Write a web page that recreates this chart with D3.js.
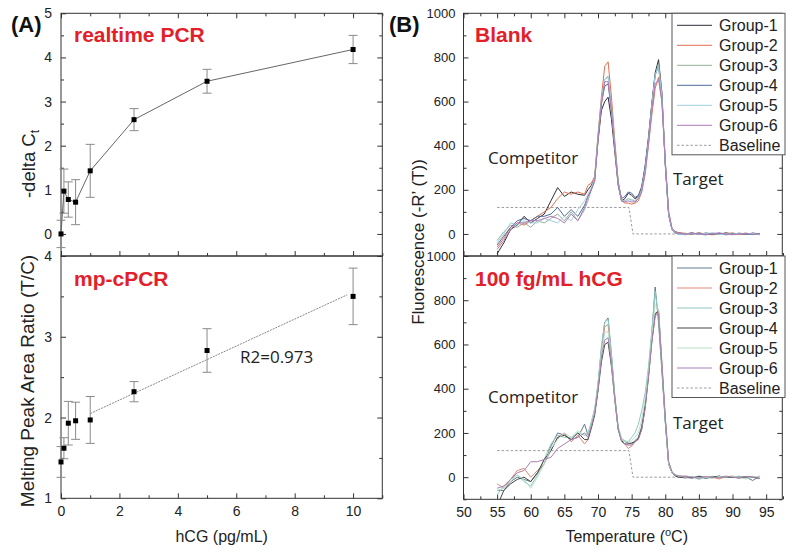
<!DOCTYPE html>
<html><head><meta charset="utf-8">
<script src="https://cdn.jsdelivr.net/npm/d3@7/dist/d3.min.js"></script>
<style>body{margin:0;background:#fff}svg{display:block}</style>
</head><body>
<svg id="c" width="800" height="554"></svg>
<script>
// ---------- Panel A data ----------
const hcgConc = [0, 0.1, 0.25, 0.5, 1, 2.5, 5, 10];
const deltaCt = [0, 0.97, 0.78, 0.72, 1.43, 2.59, 3.46, 4.18];
const deltaCtErr = [0.31, 0.5, 0.4, 0.51, 0.6, 0.25, 0.27, 0.32];
const peakRatio = [1.45, 1.62, 1.93, 1.96, 1.97, 2.32, 2.83, 3.5];
const peakRatioErr = [0.19, 0.13, 0.27, 0.23, 0.29, 0.125, 0.27, 0.35];
const fitFrom = 1, fitTo = 9.8;
const r2Label = "R2=0.973";
const xTicksA = [0, 2, 4, 6, 8, 10];
const yTicksAtop = [0, 1, 2, 3, 4, 5];
const yTicksAbot = [1, 2, 3, 4];

// ---------- Panel B data ----------
const temps = [55,56,57,58,59,60,61,62,63,64,65,66,67,68,68.5,69,69.5,70,70.5,71,71.5,72,72.5,73,73.5,74,74.5,75,75.5,76,76.5,77,77.5,78,78.5,79,79.5,80,80.5,81,81.5,82,83,84,85,86,87,88,89,90,91,92,93,94];
const groupNames = ["Group-1","Group-2","Group-3","Group-4","Group-5","Group-6"];
const blankG1 = [-90,-40,20,40,80,50,70,90,150,210,170,190,180,175, 200,220,250,420,560,600,620,520,370,220,150,160,185,175,160,170,210,300,430,590,730,790,640,320,90,20,10,5, 0,5,-3,4,0,-2,5,0,3,-2,4,0];
const blankG2 = [-60,-20,30,50,40,60,80,100,120,160,190,180,190,180, 220,230,260,450,620,760,780,620,420,240,150,140,140,135,140,150,190,270,400,540,660,710,600,330,100,25,10,5, 3,-2,5,0,-4,3,0,5,-3,2,0,-2];
const blankG3 = [-30,10,40,30,50,30,60,50,70,90,60,100,60,110, 150,200,250,440,600,700,715,580,400,230,155,150,160,155,150,170,210,300,420,580,720,770,630,320,90,20,5,0, -4,2,0,-5,3,0,-3,2,0,4,-2,3];
const blankG4 = [-50,-10,30,60,70,60,80,80,90,120,80,110,80,130, 170,200,240,430,590,670,680,560,390,230,160,170,190,185,165,175,215,310,440,590,720,760,620,310,85,20,5,0, 2,0,4,-2,0,3,-4,0,2,0,-3,2];
const blankG5 = [-40,0,50,40,60,50,50,70,60,50,80,60,110,150, 180,210,250,440,600,700,710,570,400,230,150,150,160,150,150,160,200,290,420,580,720,760,620,320,90,20,10,0, 0,3,-2,2,5,-3,0,-2,4,0,3,-5];
const blankG6 = [-70,-30,20,50,50,60,60,70,80,70,50,90,60,120, 170,200,240,430,590,690,690,560,390,225,150,145,150,145,145,160,195,280,410,560,680,700,600,330,100,25,10,5, -2,4,0,-3,2,5,0,-4,0,3,-2,0];
const hcgG1 = [-60,-60,-20,0,-10,-20,20,60,140,200,190,170,180,240, 190,240,300,420,580,700,720,550,360,220,170,160,155,150,165,180,230,330,470,650,860,700,480,250,60,20,10,5, 0,-5,5,0,-3,4,0,-2,3,0,-15,5];
const hcgG2 = [-30,-50,-10,30,40,0,30,60,120,180,200,160,190,150, 170,230,290,400,560,680,690,540,360,220,165,150,130,140,160,175,220,310,450,610,730,760,520,270,70,20,10,5, 5,0,-5,3,0,-8,2,5,0,-3,4,0];
const hcgG3 = [-80,-40,-10,10,-20,-40,10,80,150,190,180,180,200,190, 200,250,310,420,590,700,715,560,370,230,175,165,160,180,200,240,300,380,500,660,840,720,480,250,60,20,10,0, 5,2,-10,0,4,-2,3,0,5,-5,0,3];
const hcgG4 = [-130,-60,-30,-10,0,-20,20,80,120,180,190,170,200,170, 170,220,280,390,520,600,610,500,350,215,165,150,150,155,160,175,220,320,460,620,740,750,500,260,60,20,5,0, -3,0,3,-5,0,5,-2,0,-4,2,0,-6];
const hcgG5 = [-60,-50,-20,10,-10,-50,0,60,130,170,200,180,210,190, 190,240,300,410,560,650,660,520,350,220,170,160,160,165,180,200,260,350,480,640,780,760,500,260,60,20,10,5, 0,4,-2,0,-5,3,0,4,-2,-8,3,0];
const hcgG6 = [-50,-40,-10,20,30,70,70,80,90,130,150,170,180,200, 180,230,290,400,540,620,630,520,350,220,160,150,145,145,160,170,215,310,450,610,730,740,510,270,70,25,10,5, 3,0,-4,2,0,-3,5,0,-2,3,0,-4];
const baselineT = [55, 74.6, 75.2, 94];
const baselineV = [120, 120, 0, 0];
const xTicksB = [50,55,60,65,70,75,80,85,90,95];
const yTicksB = [0,200,400,600,800,1000];

const blankColors = ["#2f2f3a","#e0704f","#98b098","#4f6a9a","#9fd0e0","#b07ab8"];
const hcgColors = ["#5f7a90","#e08878","#8fc8c0","#454545","#b8e0c8","#a880b0"];

// ---------- drawing ----------
const svg = d3.select("#c");
const ARIAL = "Liberation Sans, Arial, sans-serif";
const OPEN = "Open Sans, sans-serif";
const RED = "#e3202a";

const xA = d3.scaleLinear([0, 11], [61, 382.3]);
const yAt = d3.scaleLinear([-0.5, 5], [256, 13.3]);
const yAb = d3.scaleLinear([1, 4], [498.3, 256]);
const xB = d3.scaleLinear([50, 97.4], [463.5, 782.3]);
const yBt = d3.scaleLinear([-100, 1000], [256, 13.3]);
const yBb = d3.scaleLinear([-100, 1000], [499.3, 256]);

function range(a, b, s) { const r = []; for (let v = a; v <= b + 1e-9; v += s) r.push(+v.toFixed(4)); return r; }

function axis(gen, scale, pos, vertical, major, minor, labels, fs, pad) {
  const g = svg.append("g").attr("transform", vertical ? `translate(${pos},0)` : `translate(0,${pos})`);
  g.call(gen(scale).tickValues(minor).tickSize(-3).tickSizeOuter(0).tickFormat(""));
  const g2 = svg.append("g").attr("transform", vertical ? `translate(${pos},0)` : `translate(0,${pos})`);
  g2.call(gen(scale).tickValues(major).tickSize(-5).tickSizeOuter(0).tickPadding(pad || 8)
    .tickFormat(labels ? d3.format("") : ""));
  [g, g2].forEach(gg => {
    gg.select(".domain").remove();
    gg.selectAll("line").attr("stroke", "#333");
    gg.selectAll("text").attr("font-family", ARIAL).attr("font-size", fs || 14).attr("fill", "#222");
  });
}
function frame(x0, x1, y0, y1) {
  svg.append("rect").attr("x", x0).attr("y", y0).attr("width", x1 - x0).attr("height", y1 - y0)
    .attr("fill", "none").attr("stroke", "#333").attr("stroke-width", 1);
}

// ----- Panel A top -----
const xmA = range(1, 11, 2), xMA = xTicksA;
axis(d3.axisLeft, yAt, 61, true, yTicksAtop, range(-0.5, 4.5, 1), true, 14, 9);
axis(d3.axisRight, yAt, 382.3, true, yTicksAtop, range(-0.5, 4.5, 1), false);
axis(d3.axisTop, xA, 13.3, false, xMA, xmA, false);
axis(d3.axisBottom, xA, 256, false, xMA, xmA, false);
// ----- Panel A bottom -----
axis(d3.axisLeft, yAb, 61, true, yTicksAbot, [1.5, 2.5, 3.5], true, 14, 9);
axis(d3.axisRight, yAb, 382.3, true, yTicksAbot, [1.5, 2.5, 3.5], false);
axis(d3.axisBottom, xA, 498.3, false, xMA, xmA, true, 14, 8);
frame(61, 382.3, 13.3, 256);
frame(61, 382.3, 256, 498.3);

function errorBars(ys, errs, yS, color) {
  const g = svg.append("g").attr("stroke", color).attr("stroke-width", 1);
  hcgConc.forEach((x, i) => {
    const cx = xA(x), t = yS(ys[i] + errs[i]), b = yS(ys[i] - errs[i]);
    g.append("line").attr("x1", cx).attr("x2", cx).attr("y1", t).attr("y2", b);
    g.append("line").attr("x1", cx - 4.5).attr("x2", cx + 4.5).attr("y1", t).attr("y2", t);
    g.append("line").attr("x1", cx - 4.5).attr("x2", cx + 4.5).attr("y1", b).attr("y2", b);
  });
}
function squares(ys, yS) {
  svg.append("g").selectAll("rect").data(hcgConc).join("rect")
    .attr("x", (d) => xA(d) - 2.5).attr("y", (d, i) => yS(ys[i]) - 2.5)
    .attr("width", 5).attr("height", 5).attr("fill", "#000");
}
errorBars(deltaCt, deltaCtErr, yAt, "#8a8a8a");
svg.append("path").datum(hcgConc.map((x, i) => [x, deltaCt[i]]))
  .attr("d", d3.line().x(d => xA(d[0])).y(d => yAt(d[1])))
  .attr("fill", "none").attr("stroke", "#666").attr("stroke-width", 1);
squares(deltaCt, yAt);

errorBars(peakRatio, peakRatioErr, yAb, "#8a8a8a");
// linear fit over points with x >= 1
const fitPts = hcgConc.map((x, i) => [x, peakRatio[i]]).filter(d => d[0] >= 1);
const mx = d3.mean(fitPts, d => d[0]), my = d3.mean(fitPts, d => d[1]);
const slope = d3.sum(fitPts, d => (d[0] - mx) * (d[1] - my)) / d3.sum(fitPts, d => (d[0] - mx) ** 2);
const icpt = my - slope * mx;
svg.append("line").attr("x1", xA(fitFrom)).attr("y1", yAb(icpt + slope * fitFrom))
  .attr("x2", xA(fitTo)).attr("y2", yAb(icpt + slope * fitTo))
  .attr("stroke", "#888").attr("stroke-width", 1).attr("stroke-dasharray", "2,1");
squares(peakRatio, yAb);

svg.append("text").attr("x", 240).attr("y", 363).attr("font-family", OPEN).attr("font-size", 17)
  .attr("fill", "#222").text(r2Label);
svg.append("text").attr("x", 74).attr("y", 41.5).attr("font-family", ARIAL).attr("font-weight", "bold")
  .attr("font-size", 21).attr("fill", RED).text("realtime PCR");
svg.append("text").attr("x", 74).attr("y", 286).attr("font-family", ARIAL).attr("font-weight", "bold")
  .attr("font-size", 21).attr("fill", RED).text("mp-cPCR");
svg.append("text").attr("x", 11).attr("y", 32).attr("font-family", ARIAL).attr("font-weight", "bold")
  .attr("font-size", 22).attr("fill", "#111").text("(A)");
const yl1 = svg.append("text").attr("transform", "translate(35,164) rotate(-90)").attr("text-anchor", "middle")
  .attr("font-family", ARIAL).attr("font-size", 18.5).attr("fill", "#222");
yl1.append("tspan").text("-delta C");
yl1.append("tspan").attr("font-size", 12).attr("dy", 4).text("t");
svg.append("text").attr("transform", "translate(34,381) rotate(-90)").attr("text-anchor", "middle")
  .attr("font-family", ARIAL).attr("font-size", 19).attr("fill", "#222").text("Melting Peak Area Ratio (T/C)");
svg.append("text").attr("x", 221.7).attr("y", 542).attr("text-anchor", "middle")
  .attr("font-family", ARIAL).attr("font-size", 16).attr("fill", "#222").text("hCG (pg/mL)");

// ----- Panel B -----
const xmB = range(52.5, 97.5, 5);
axis(d3.axisLeft, yBt, 463.5, true, yTicksB, range(-100, 900, 200), true, 13, 8);
axis(d3.axisRight, yBt, 782.3, true, yTicksB, range(-100, 900, 200), false);
axis(d3.axisTop, xB, 13.3, false, xTicksB, xmB, false);
axis(d3.axisBottom, xB, 256, false, xTicksB, xmB, false);
axis(d3.axisLeft, yBb, 463.5, true, yTicksB, range(-100, 900, 200), true, 13, 8);
axis(d3.axisRight, yBb, 782.3, true, yTicksB, range(-100, 900, 200), false);
axis(d3.axisBottom, xB, 499.3, false, xTicksB, xmB, true, 14, 8);

const defs = svg.append("defs");
defs.append("clipPath").attr("id", "cbt").append("rect").attr("x", 463.5).attr("y", 13.3).attr("width", 318.8).attr("height", 242.7);
defs.append("clipPath").attr("id", "cbb").append("rect").attr("x", 463.5).attr("y", 256).attr("width", 318.8).attr("height", 243.3);

function curves(groups, colors, yS, clip) {
  const g = svg.append("g").attr("clip-path", `url(#${clip})`);
  const line = d3.line().x(d => xB(d[0])).y(d => yS(d[1]));
  g.append("path").datum(baselineT.map((t, i) => [t, baselineV[i]])).attr("d", line)
    .attr("fill", "none").attr("stroke", "#9a9a9a").attr("stroke-width", 1).attr("stroke-dasharray", "2.5,2");
  groups.forEach((vals, k) => {
    g.append("path").datum(temps.map((t, i) => [t, vals[i]])).attr("d", line)
      .attr("fill", "none").attr("stroke", colors[k]).attr("stroke-width", 1).attr("stroke-linejoin", "round");
  });
}
curves([blankG1, blankG2, blankG3, blankG4, blankG5, blankG6], blankColors, yBt, "cbt");
curves([hcgG1, hcgG2, hcgG3, hcgG4, hcgG5, hcgG6], hcgColors, yBb, "cbb");
frame(463.5, 782.3, 13.3, 256);
frame(463.5, 782.3, 256, 499.3);

function legend(y0, colors) {
  svg.append("rect").attr("x", 672).attr("y", y0).attr("width", 113).attr("height", 141.5)
    .attr("fill", "#fff").attr("stroke", "#555").attr("stroke-width", 1);
  const items = groupNames.map((n, i) => ({ n, c: colors[i], dash: null })).concat([{ n: "Baseline", c: "#9a9a9a", dash: "2.5,2" }]);
  items.forEach((it, i) => {
    const cy = y0 + 12 + i * 20;
    svg.append("line").attr("x1", 677).attr("x2", 712).attr("y1", cy).attr("y2", cy)
      .attr("stroke", it.c).attr("stroke-width", 1).attr("stroke-dasharray", it.dash);
    svg.append("text").attr("x", 719).attr("y", cy + 5.5).attr("font-family", ARIAL).attr("font-size", 16)
      .attr("fill", "#222").text(it.n);
  });
}
legend(13.3, blankColors);
legend(256, hcgColors);

svg.append("text").attr("x", 475).attr("y", 41.5).attr("font-family", ARIAL).attr("font-weight", "bold")
  .attr("font-size", 21).attr("fill", RED).text("Blank");
svg.append("text").attr("x", 475).attr("y", 286).attr("font-family", ARIAL).attr("font-weight", "bold")
  .attr("font-size", 21).attr("fill", RED).text("100 fg/mL hCG");
svg.append("text").attr("x", 389).attr("y", 32).attr("font-family", ARIAL).attr("font-weight", "bold")
  .attr("font-size", 22).attr("fill", "#111").text("(B)");
[[488, 164, "Competitor"], [673, 185, "Target"], [488, 402.5, "Competitor"], [673, 429, "Target"]].forEach(d => {
  svg.append("text").attr("x", d[0]).attr("y", d[1]).attr("font-family", OPEN).attr("font-size", 17)
    .attr("fill", "#222").text(d[2]);
});
svg.append("text").attr("transform", "translate(424,242) rotate(-90)").attr("text-anchor", "middle")
  .attr("font-family", ARIAL).attr("font-size", 17).attr("fill", "#222").text("Fluorescence (-R\u2019 (T))");
const xl = svg.append("text").attr("x", 626.7).attr("y", 542).attr("text-anchor", "middle")
  .attr("font-family", ARIAL).attr("font-size", 16).attr("fill", "#222");
xl.append("tspan").text("Temperature (");
xl.append("tspan").attr("font-size", 11).attr("dy", -6).text("o");
xl.append("tspan").attr("dy", 6).text("C)");
</script>
</body></html>
